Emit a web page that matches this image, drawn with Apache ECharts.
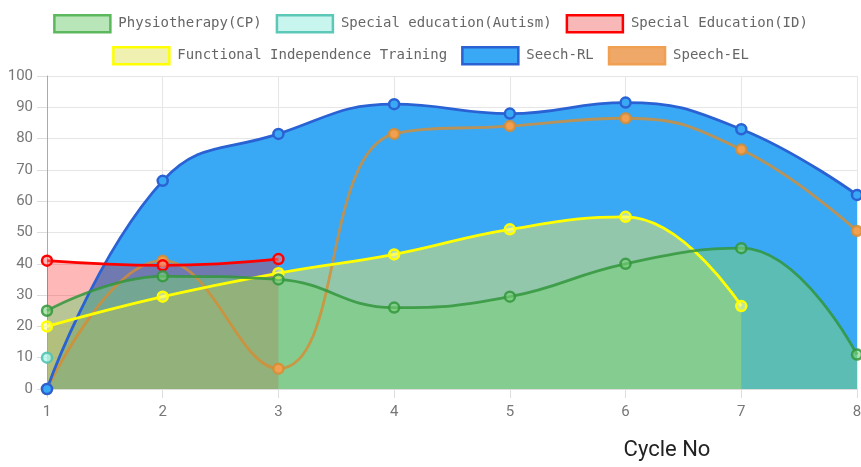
<!DOCTYPE html>
<html>
<head>
<meta charset="utf-8">
<script src="https://cdn.jsdelivr.net/npm/echarts@6/dist/echarts.min.js"></script>
<style>
html,body{margin:0;padding:0;background:#fff;}
#c{width:861px;height:467px;}
</style>
</head>
<body>
<div id="c"></div>
<script>
const cycles = ['1','2','3','4','5','6','7','8'];
const yTicks = [0,10,20,30,40,50,60,70,80,90,100];
const physio   = [25, 36, 35, 26, 29.5, 40, 45, 11];
const autism   = [10, '-', '-', '-', '-', '-', '-', '-'];
const specialID = [41, 39.5, 41.5, '-', '-', '-', '-', '-'];
const fit      = [20, 29.5, 37, 43, 51, 55, 26.5, '-'];
const speechRL = [0, 66.5, 81.5, 91, 88, 91.5, 83, 62];
const speechEL = [0, 41, 6.5, 81.5, 84, 86.5, 76.5, 50.5];

const names = ['Physiotherapy(CP)','Special education(Autism)','Special Education(ID)','Functional Independence Training','Seech-RL','Speech-EL'];
const dataSets = [physio, autism, specialID, fit, speechRL, speechEL];
const lineColors = ['rgba(50,150,60,0.85)','rgba(80,195,180,0.9)','#ff0000','#ffff00','#2a62d4','rgba(215,140,50,0.8)'];
const fillColors = ['rgba(121,208,121,0.53)','rgba(150,240,225,0.5)','rgba(255,0,0,0.28)','rgba(227,227,107,0.53)','rgba(58,169,245,1)','rgba(240,160,90,0.9)'];
const legendFill = ['#b8e6b8','#c8f5ee','#f8b8b8','#f0f0b0','#3aa9f5','#f0a868'];
const legendBorder = ['#5cb85c','#5cc8b8','#ff0000','#ffff00','#2a62d4','#f0a050'];
const pointFill = ['rgba(121,208,121,0.6)','rgba(180,245,235,0.8)','rgba(255,120,120,0.5)','rgba(255,255,150,0.6)','#3aa9f5','#f0a050'];

const series = [];
for (let i = names.length - 1; i >= 0; i--) {
  series.push({
    name: names[i], type: 'line', data: dataSets[i], smooth: 0.45,
    symbol: 'none', z: 1, silent: true,
    lineStyle: {width: 0, opacity: 0},
    areaStyle: {color: fillColors[i], opacity: 1},
    itemStyle: {color: legendFill[i]}
  });
}
for (let i = names.length - 1; i >= 0; i--) {
  series.push({
    name: names[i], type: 'line', data: dataSets[i], smooth: 0.45,
    symbol: 'circle', symbolSize: 10, z: 3,
    lineStyle: {color: lineColors[i], width: 2.8},
    itemStyle: {color: pointFill[i], borderColor: lineColors[i], borderWidth: 2.5}
  });
}

function legendData(idx) {
  return idx.map(i => ({
    name: names[i], icon: 'rect',
    itemStyle: {color: legendFill[i], borderColor: legendBorder[i], borderWidth: 2.5}
  }));
}
const legendText = {fontFamily: 'DejaVu Sans Mono', fontSize: 14, color: '#666', padding: [0,0,0,3]};

const chart = echarts.init(document.getElementById('c'), null, {renderer: 'canvas'});
chart.setOption({
  animation: false,
  legend: [
    {top: 9, left: 'center', itemWidth: 56, itemHeight: 17, itemGap: 14, textStyle: legendText, data: legendData([0,1,2])},
    {top: 41, left: 'center', itemWidth: 56, itemHeight: 17, itemGap: 14, textStyle: legendText, data: legendData([3,4,5])}
  ],
  grid: {left: 47, right: 4, top: 76, bottom: 78, containLabel: false, outerBoundsMode: 'none'},
  xAxis: {
    type: 'category', data: cycles, boundaryGap: false,
    name: 'Cycle No', nameLocation: 'middle', nameGap: 50,
    nameTextStyle: {fontFamily: 'Roboto', fontSize: 22, color: '#222', padding: [0,0,0,430]},
    axisLine: {show: true, lineStyle: {color: '#ddd'}},
    axisTick: {show: true, length: 9, lineStyle: {color: '#ddd'}},
    axisLabel: {margin: 16, fontFamily: 'Liberation Sans Narrow, Roboto', fontSize: 15, color: '#777'},
    splitLine: {show: true, lineStyle: {color: '#e6e6e6'}}
  },
  yAxis: {
    type: 'value', min: 0, max: 100, interval: 10,
    axisLine: {show: true, lineStyle: {color: '#aaa'}},
    axisTick: {show: true, length: 10, lineStyle: {color: '#ddd'}},
    axisLabel: {margin: 14, fontFamily: 'Liberation Sans Narrow, Roboto', fontSize: 15, color: '#777'},
    splitLine: {show: true, lineStyle: {color: '#e6e6e6'}}
  },
  series: series
});
</script>
</body>
</html>
